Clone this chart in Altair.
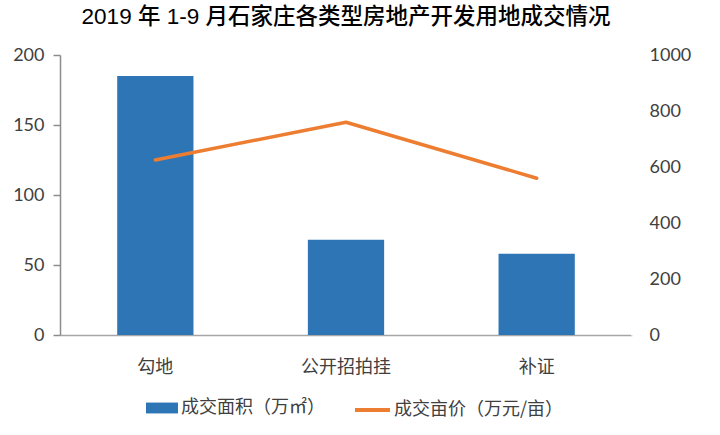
import altair as alt
import pandas as pd

categories = ["勾地", "公开招拍挂", "补证"]
area = [185, 68, 58]          # 成交面积（万㎡）
price = [625, 760, 560]       # 成交亩价（万元/亩）

bar_name = "成交面积（万㎡）"
line_name = "成交亩价（万元/亩）"

df = pd.DataFrame({
    "cat": categories,
    "area": area,
    "price": price,
    "bar_s": [bar_name] * 3,
    "line_s": [line_name] * 3,
})

CJK = "Noto Sans CJK SC"
NUM = "Lato"

x_enc = alt.X(
    "cat:N", sort=categories, title=None,
    scale=alt.Scale(paddingInner=0.6, paddingOuter=0.3),
    axis=alt.Axis(labelAngle=0, labelFont=CJK, labelFontSize=18, labelColor="#404040",
                  domainColor="#a6a6a6", domainWidth=1.5, ticks=False, labelPadding=23,
                  grid=False),
)

bars = alt.Chart(df).mark_bar(color="#2E75B6").encode(
    x=x_enc,
    y=alt.Y("area:Q", title=None,
            scale=alt.Scale(domain=[0, 200], nice=False),
            axis=alt.Axis(values=[0, 50, 100, 150, 200], orient="left", grid=False,
                          labelFont=NUM, labelFontSize=18, labelColor="#404040",
                          domain=True, domainColor="#8c8c8c", domainWidth=1.5,
                          ticks=True, tickColor="#8c8c8c", tickSize=7, tickWidth=1.5,
                          labelPadding=9)),
    fill=alt.Fill("bar_s:N", title=None,
                  scale=alt.Scale(domain=[bar_name], range=["#2E75B6"]),
                  legend=alt.Legend(orient="none", legendX=86, legendY=337, padding=0,
                                    symbolType="M-1,-0.34H1V0.34H-1Z", symbolSize=1024,
                                    symbolStrokeWidth=0, symbolOpacity=1,
                                    labelFont=CJK, labelFontSize=18, labelColor="#404040",
                                    labelOffset=3, labelLimit=300)),
)

line = alt.Chart(df).mark_line(strokeWidth=3.5, strokeCap="round", strokeJoin="round").encode(
    x=x_enc,
    y=alt.Y("price:Q", title=None,
            scale=alt.Scale(domain=[0, 1000], nice=False),
            axis=alt.Axis(values=[0, 200, 400, 600, 800, 1000], orient="right", grid=False,
                          format="d", zindex=1,
                          labelFont=NUM, labelFontSize=18, labelColor="#404040",
                          domain=True, domainColor="#ffffff", domainOpacity=1, domainWidth=3,
                          ticks=False, labelPadding=17)),
    stroke=alt.Stroke("line_s:N", title=None,
                      scale=alt.Scale(domain=[line_name], range=["#ED7D31"]),
                      legend=alt.Legend(orient="none", legendX=293, legendY=335.5, padding=0,
                                        symbolType="stroke", symbolSize=1225,
                                        symbolStrokeWidth=4,
                                        labelFont=CJK, labelFontSize=18, labelColor="#404040",
                                        labelOffset=2, labelLimit=300)),
)

chart = alt.layer(bars, line).resolve_scale(y="independent").properties(
    width=572, height=280,
    background="white",
    autosize=alt.AutoSizeParams(type="none"),
    padding={"left": 60, "top": 55, "right": 88, "bottom": 100},
    title=alt.Title("2019 年  1-9 月石家庄各类型房地产开发用地成交情况",
                    font=f"Liberation Sans, {CJK}", fontSize=22.5, fontWeight=500,
                    color="#000000", anchor="middle", offset=18),
).configure_view(strokeWidth=0, strokeOpacity=0)

chart.save("out.html", embed_options={"renderer": "svg", "actions": False})
